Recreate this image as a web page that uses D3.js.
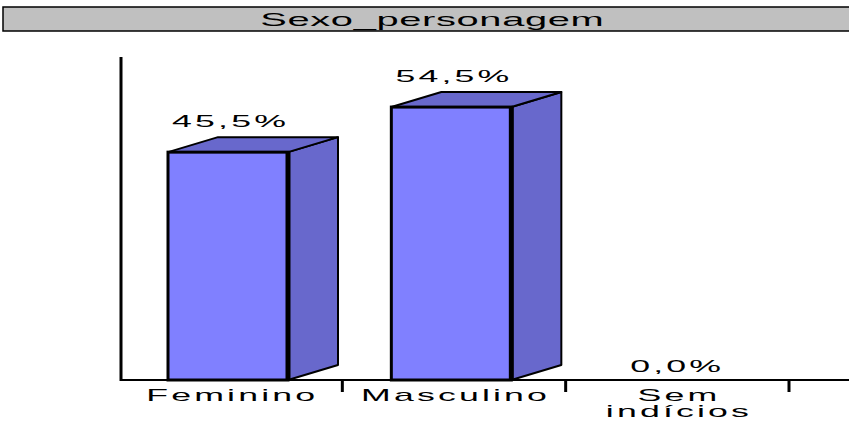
<!DOCTYPE html>
<html>
<head>
<meta charset="utf-8">
<script src="https://cdn.jsdelivr.net/npm/d3@7"></script>
<style>
  body { margin: 0; background: #fff; }
  text { font-family: "Liberation Sans", Arial, sans-serif; fill: #000; }
</style>
</head>
<body>
<svg id="chart" width="849" height="424"></svg>
<script>
const title = 'Sexo_personagem';
const categories = ['Feminino', 'Masculino', 'Sem indícios'];
const categoryLines = [['Feminino'], ['Masculino'], ['Sem', 'indícios']];
const values = [0.455, 0.545, 0.0];
const valueLabels = ['45,5%', '54,5%', '0,0%'];

const svg = d3.select('#chart');
const plot = { left: 121, right: 791, top: 57, bottom: 380 };
const depth = { dx: 50, dy: -15 };

// stretched, spaced text like the original export
function wideText(parent, cx, cy, lines, size, spacing, lineGap) {
  const g = parent.append('g')
    .attr('transform', `translate(${cx},${cy}) scale(2.1,1)`);
  const t = g.append('text')
    .attr('text-anchor', 'middle')
    .style('font-size', `${size}px`)
    .style('letter-spacing', `${spacing}px`);
  lines.forEach((w, k) => {
    t.append('tspan')
      .attr('x', spacing / 2)
      .attr('dy', k === 0 ? 0 : lineGap)
      .text(w);
  });
  return g;
}

// title strip
svg.append('rect')
  .attr('x', 3).attr('y', 7)
  .attr('width', 850).attr('height', 24)
  .attr('fill', '#c0c0c0')
  .attr('stroke', '#000')
  .attr('stroke-width', 1.5);
wideText(svg, 432, 26, [title], 19, 0.3, 0);

const x = d3.scaleBand()
  .domain(categories)
  .range([plot.left, plot.right]);

const y = d3.scaleLinear()
  .domain([0, 0.645])
  .range([plot.bottom, plot.top]);

const barInset = 47;
const barWidth = 120;

const bars = svg.append('g');
categories.forEach((c, i) => {
  const v = values[i];
  const x0 = x(c) + barInset;
  const x1 = x0 + barWidth;
  const yt = y(v);
  const yb = y(0);
  const g = bars.append('g');
  if (v > 0) {
    g.append('path')
      .attr('d', `M${x1},${yb} L${x1 + depth.dx},${yb + depth.dy} L${x1 + depth.dx},${yt + depth.dy} L${x1},${yt} Z`)
      .attr('fill', '#6868cc')
      .attr('stroke', '#000')
      .attr('stroke-width', 2)
      .attr('stroke-linejoin', 'round');
    g.append('path')
      .attr('d', `M${x0},${yt} L${x0 + depth.dx},${yt + depth.dy} L${x1 + depth.dx},${yt + depth.dy} L${x1},${yt} Z`)
      .attr('fill', '#6868cc')
      .attr('stroke', '#000')
      .attr('stroke-width', 2)
      .attr('stroke-linejoin', 'round');
    g.append('rect')
      .attr('x', x0).attr('y', yt)
      .attr('width', barWidth).attr('height', yb - yt)
      .attr('fill', '#8080ff')
      .attr('stroke', '#000')
      .attr('stroke-width', 3);
    g.append('line')
      .attr('x1', x1).attr('x2', x1)
      .attr('y1', yt).attr('y2', yb)
      .attr('stroke', '#000')
      .attr('stroke-width', 5);
  }
  const ly = v > 0 ? yt + depth.dy - 10 : yb - 8;
  wideText(svg, x0 + barWidth / 2 + 1, ly, [valueLabels[i]], 17, 1.5, 0);
});

// axes
svg.append('line')
  .attr('x1', plot.left).attr('x2', plot.left)
  .attr('y1', plot.top).attr('y2', plot.bottom + 1)
  .attr('stroke', '#000').attr('stroke-width', 3);
svg.append('line')
  .attr('x1', plot.left).attr('x2', 849)
  .attr('y1', plot.bottom).attr('y2', plot.bottom)
  .attr('stroke', '#000').attr('stroke-width', 2);

categories.forEach((c, i) => {
  const xe = x(c) + x.bandwidth() - 2;
  svg.append('line')
    .attr('x1', xe).attr('x2', xe)
    .attr('y1', plot.bottom).attr('y2', plot.bottom + 12)
    .attr('stroke', '#000').attr('stroke-width', 3);
  wideText(svg, x(c) + x.bandwidth() / 2 - 2, 401, categoryLines[i], 17, 1.5, 16);
});
</script>
</body>
</html>
